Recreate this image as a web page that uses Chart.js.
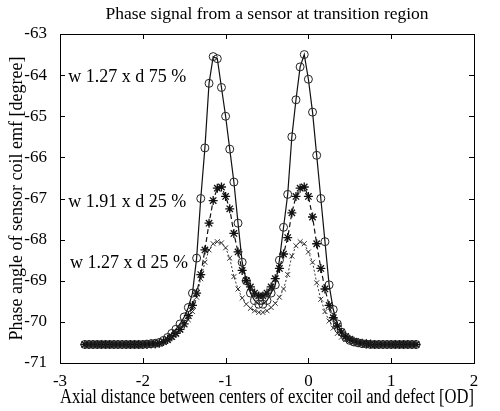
<!DOCTYPE html>
<html>
<head>
<meta charset="utf-8">
<script src="https://cdn.jsdelivr.net/npm/chart.js@4.4.1/dist/chart.umd.min.js"></script>
<style>
html, body { margin: 0; padding: 0; background: #fff; }
#wrap { width: 500px; height: 411px; }
</style>
</head>
<body>
<div id="wrap"><canvas id="PhaseChart"></canvas></div>
<script>
// axial distance [OD]
var axial_distance = [
    -2.70, -2.65, -2.60, -2.55, -2.50, -2.45, -2.40, -2.35, -2.30, -2.25,
    -2.20, -2.15, -2.10, -2.05, -2.00, -1.95, -1.90, -1.85, -1.80, -1.75,
    -1.70, -1.65, -1.60, -1.55, -1.50, -1.45, -1.40, -1.35, -1.30, -1.25,
    -1.20, -1.15, -1.10, -1.05, -1.00, -0.95, -0.90, -0.85, -0.80, -0.75,
    -0.70, -0.65, -0.60, -0.55, -0.50, -0.45, -0.40, -0.35, -0.30, -0.25,
    -0.20, -0.15, -0.10, -0.05, 0.00, 0.05, 0.10, 0.15, 0.20, 0.25,
    0.30, 0.35, 0.40, 0.45, 0.50, 0.55, 0.60, 0.65, 0.70, 0.75,
    0.80, 0.85, 0.90, 0.95, 1.00, 1.05, 1.10, 1.15, 1.20, 1.25,
    1.30
];

// phase angle [degree], one list per defect
var w127_d75 = [
    -70.55, -70.55, -70.55, -70.55, -70.55, -70.55, -70.55, -70.55, -70.55, -70.55,
    -70.55, -70.55, -70.55, -70.55, -70.55, -70.54, -70.53, -70.52, -70.50, -70.45,
    -70.38, -70.28, -70.18, -70.05, -69.88, -69.65, -69.30, -68.45, -67.00, -65.77,
    -64.20, -63.55, -63.60, -64.30, -65.00, -65.80, -66.60, -67.60, -68.55, -69.00,
    -69.30, -69.48, -69.57, -69.57, -69.48, -69.30, -69.10, -68.50, -67.70, -66.90,
    -65.50, -64.60, -63.80, -63.50, -64.10, -64.90, -65.95, -67.00, -68.05, -69.10,
    -69.70, -70.05, -70.25, -70.38, -70.45, -70.49, -70.51, -70.53, -70.54, -70.55,
    -70.55, -70.55, -70.55, -70.55, -70.55, -70.55, -70.55, -70.55, -70.55, -70.55,
    -70.55
];

var w191_d25 = [
    -70.55, -70.55, -70.55, -70.55, -70.55, -70.55, -70.55, -70.55, -70.55, -70.55,
    -70.55, -70.55, -70.55, -70.55, -70.55, -70.55, -70.54, -70.54, -70.52, -70.48,
    -70.43, -70.36, -70.28, -70.18, -70.05, -69.85, -69.60, -69.30, -68.85, -68.25,
    -67.60, -67.05, -66.75, -66.72, -66.95, -67.25, -67.85, -68.30, -68.75, -69.00,
    -69.15, -69.30, -69.37, -69.37, -69.30, -69.15, -68.95, -68.70, -68.35, -67.95,
    -67.35, -66.95, -66.75, -66.72, -66.95, -67.45, -68.10, -68.70, -69.20, -69.60,
    -69.90, -70.10, -70.25, -70.35, -70.42, -70.47, -70.50, -70.52, -70.53, -70.54,
    -70.55, -70.55, -70.55, -70.55, -70.55, -70.55, -70.55, -70.55, -70.55, -70.55,
    -70.55
];

var w127_d25 = [
    -70.55, -70.55, -70.55, -70.55, -70.55, -70.55, -70.55, -70.55, -70.55, -70.55,
    -70.55, -70.55, -70.55, -70.55, -70.55, -70.55, -70.54, -70.54, -70.52, -70.49,
    -70.45, -70.38, -70.30, -70.20, -70.07, -69.95, -69.75, -69.40, -68.95, -68.55,
    -68.25, -68.10, -68.05, -68.08, -68.20, -68.45, -68.90, -69.20, -69.42, -69.57,
    -69.67, -69.73, -69.77, -69.77, -69.73, -69.65, -69.55, -69.40, -69.20, -68.85,
    -68.40, -68.15, -68.05, -68.10, -68.30, -68.55, -69.05, -69.45, -69.75, -69.98,
    -70.15, -70.28, -70.37, -70.43, -70.47, -70.50, -70.52, -70.53, -70.54, -70.55,
    -70.55, -70.55, -70.55, -70.55, -70.55, -70.55, -70.55, -70.55, -70.55, -70.55,
    -70.55
];

var series_labels = ['w 1.27 x d 75 %', 'w 1.91 x d 25 %', 'w 1.27 x d 25 %'];
// where each label sits, in data units (left edge, middle of text)
var label_x = [-2.9, -2.9, -2.88];
var label_y = [-64.05, -67.1, -68.57];

var serif = "'Liberation Serif', 'DejaVu Serif', serif";

function toPoints(values) {
    return axial_distance.map((x, i) => ({x: x, y: values[i]}));
}

// MATLAB style box with inward ticks on all four sides
var boxPlugin = {
    id: 'boxTicks',
    afterDraw: chart => {
        let ctx = chart.ctx;
        let a = chart.chartArea;
        let xs = chart.scales.x;
        let ys = chart.scales.y;
        let len = 5;
        ctx.save();
        ctx.strokeStyle = '#000';
        ctx.lineWidth = 1;
        ctx.strokeRect(Math.round(a.left) + 0.5, Math.round(a.top) + 0.5,
            Math.round(a.right - a.left), Math.round(a.bottom - a.top));
        ctx.beginPath();
        xs.ticks.forEach(t => {
            let px = Math.round(xs.getPixelForValue(t.value)) + 0.5;
            ctx.moveTo(px, a.bottom);
            ctx.lineTo(px, a.bottom - len);
            ctx.moveTo(px, a.top);
            ctx.lineTo(px, a.top + len);
        });
        ys.ticks.forEach(t => {
            let py = Math.round(ys.getPixelForValue(t.value)) + 0.5;
            ctx.moveTo(a.left, py);
            ctx.lineTo(a.left + len, py);
            ctx.moveTo(a.right, py);
            ctx.lineTo(a.right - len, py);
        });
        ctx.stroke();
        ctx.restore();
    }
};

var labelPlugin = {
    id: 'seriesLabels',
    afterDatasetsDraw: chart => {
        let ctx = chart.ctx;
        let xs = chart.scales.x;
        let ys = chart.scales.y;
        ctx.save();
        ctx.fillStyle = '#000';
        ctx.font = "18px " + serif;
        ctx.textAlign = 'left';
        ctx.textBaseline = 'middle';
        series_labels.forEach((txt, i) => {
            ctx.fillText(txt, xs.getPixelForValue(label_x[i]), ys.getPixelForValue(label_y[i]));
        });
        ctx.restore();
    }
};

new Chart(document.getElementById('PhaseChart'), {
    type: 'line',
    plugins: [boxPlugin, labelPlugin],
    data: {
        datasets: [
            {
                label: series_labels[0],
                data: toPoints(w127_d75),
                borderColor: '#111',
                borderWidth: 1.2,
                pointStyle: 'circle',
                pointRadius: 4,
                pointBorderWidth: 1,
                pointBorderColor: '#222',
                pointBackgroundColor: 'rgba(0,0,0,0)',
                tension: 0
            },
            {
                label: series_labels[1],
                data: toPoints(w191_d25),
                borderColor: '#111',
                borderWidth: 1.2,
                borderDash: [5, 3],
                pointStyle: 'star',
                pointRadius: 4.5,
                pointBorderWidth: 1.3,
                pointBorderColor: '#111',
                pointBackgroundColor: 'rgba(0,0,0,0)',
                tension: 0
            },
            {
                label: series_labels[2],
                data: toPoints(w127_d25),
                borderColor: '#333',
                borderWidth: 1,
                borderDash: [2, 2],
                pointStyle: 'crossRot',
                pointRadius: 3.5,
                pointBorderWidth: 1,
                pointBorderColor: '#333',
                pointBackgroundColor: 'rgba(0,0,0,0)',
                tension: 0
            }
        ]
    },
    options: {
        responsive: true,
        maintainAspectRatio: false,
        animation: false,
        layout: {
            padding: {left: 0, right: 26, top: 0, bottom: 0}
        },
        plugins: {
            legend: {display: false},
            tooltip: {enabled: false},
            title: {
                display: true,
                fullSize: false,
                text: 'Phase signal from a sensor at transition region',
                color: '#000',
                font: {family: serif, size: 17.5, weight: 'normal', lineHeight: 1.2},
                padding: {top: 4, bottom: 9}
            }
        },
        scales: {
            x: {
                type: 'linear',
                min: -3,
                max: 2,
                afterFit: s => { s.height = 48; },
                grid: {display: false},
                border: {display: false},
                ticks: {
                    stepSize: 1,
                    color: '#000',
                    padding: 0,
                    font: {family: serif, size: 17}
                },
                title: {
                    display: true,
                    text: 'Axial distance between centers of exciter coil and defect [OD]',
                    color: '#000',
                    font: {family: serif, size: 20, lineHeight: 1.2},
                    padding: {top: 0, bottom: 1}
                }
            },
            y: {
                min: -71,
                max: -63,
                afterFit: s => { s.width = 60; },
                grid: {display: false},
                border: {display: false},
                ticks: {
                    stepSize: 1,
                    color: '#000',
                    padding: 5,
                    font: {family: serif, size: 17}
                },
                title: {
                    display: true,
                    text: 'Phase angle of sensor coil emf [degree]',
                    color: '#000',
                    font: {family: serif, size: 18, lineHeight: 1.2},
                    padding: {top: 6, bottom: 0}
                }
            }
        }
    }
});
</script>
</body>
</html>
